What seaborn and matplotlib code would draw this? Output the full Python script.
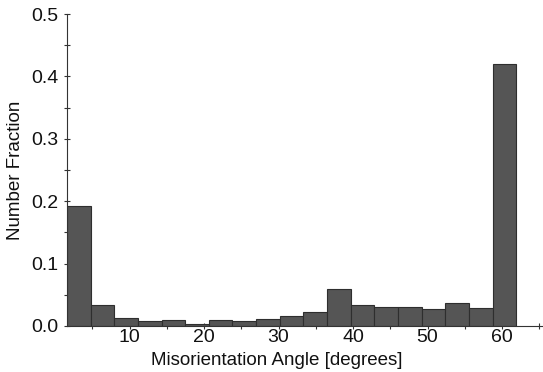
import numpy as np
import pandas as pd
import matplotlib.pyplot as plt
import seaborn as sns
from matplotlib.ticker import MultipleLocator

sns.set_theme(style="white")
plt.rcParams['font.family'] = ['Liberation Sans', 'DejaVu Sans']

# Data: misorientation angle histogram (19 bins, number fraction)
bin_lo, bin_hi = 1.6, 61.9
fractions = [0.192, 0.033, 0.012, 0.008, 0.0096, 0.003, 0.0096, 0.008, 0.011,
             0.016, 0.022, 0.059, 0.033, 0.031, 0.031, 0.027, 0.036, 0.028, 0.42]
edges = np.linspace(bin_lo, bin_hi, len(fractions) + 1)
df = pd.DataFrame({'angle': (edges[:-1] + edges[1:]) / 2, 'fraction': fractions})

fig = plt.figure(figsize=(5.43, 3.72), dpi=100)
ax = fig.add_axes([0.1234, 0.124, 0.8766, 0.838])

sns.histplot(data=df, x='angle', weights='fraction', bins=list(edges), ax=ax,
             color='#555555', edgecolor='#2e2e2e', linewidth=0.8, alpha=1)

ax.set_xlim(1.6, 65.5)
ax.set_ylim(0, 0.5)
ax.xaxis.set_minor_locator(MultipleLocator(5))
ax.yaxis.set_major_locator(MultipleLocator(0.1))
ax.yaxis.set_minor_locator(MultipleLocator(0.05))
ax.set_xticks([10, 20, 30, 40, 50, 60])
ax.tick_params(which='both', direction='inout', length=4, width=0.8,
               color='#333333', labelsize=14, labelcolor='#111111')
ax.tick_params(axis='x', which='both', bottom=True, pad=0)
ax.tick_params(axis='y', which='both', left=True, pad=4)
ax.yaxis.set_major_formatter(plt.FuncFormatter(lambda v, p: f"{v:.1f}"))

for s in ['top', 'right']:
    ax.spines[s].set_visible(False)
for s in ['left', 'bottom']:
    ax.spines[s].set_color('#333333')
    ax.spines[s].set_linewidth(0.8)

ax.set_xlabel('Misorientation Angle [degrees]', fontsize=13.5, color='#111111')
ax.xaxis.set_label_coords(0.441, -0.085)
ax.set_ylabel('Number Fraction', fontsize=13.5, color='#111111', labelpad=5)

fig.savefig('out.png', dpi=100)
